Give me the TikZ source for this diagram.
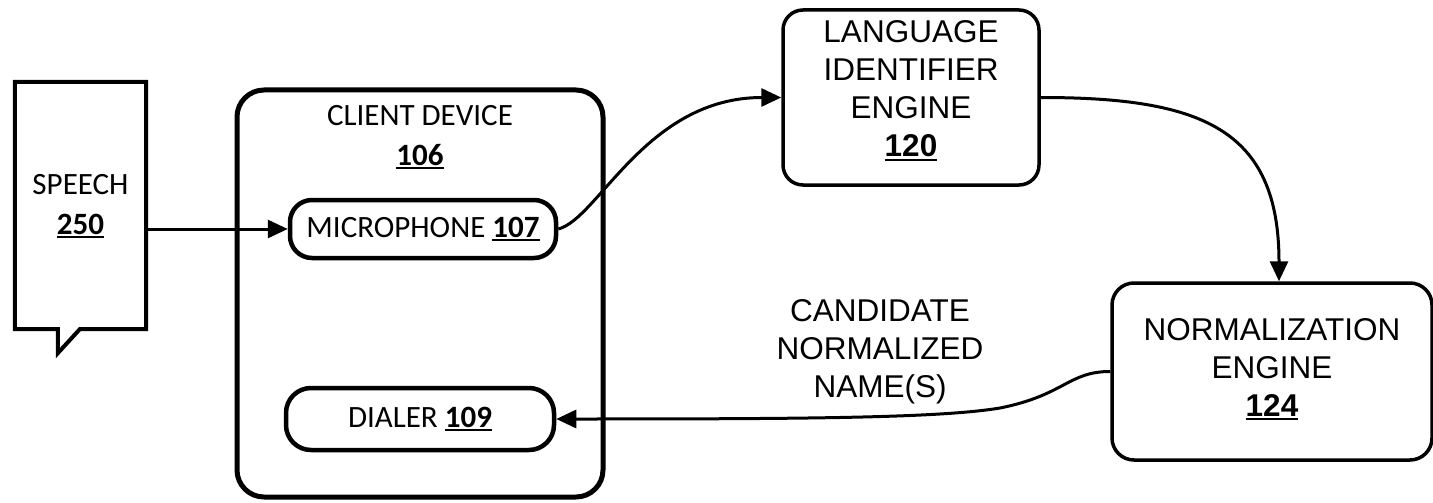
\documentclass[tikz,border=0pt]{standalone}
\usepackage{fontspec}
\newfontfamily\calf{Carlito}
\newfontfamily\arf{Liberation Sans}
\usetikzlibrary{arrows.meta}
\newcommand\un[1]{\setbox0\hbox{\bfseries #1}\rlap{\rule[-4pt]{\wd0}{2.2pt}}\box0}
\begin{document}
\begin{tikzpicture}[x=1pt,y=-1pt,
  box/.style={draw, inner sep=0pt, rectangle},
  calt/.style={font=\calf\fontsize{31}{40}\selectfont, align=center, inner sep=0pt},
  art/.style={font=\arf\fontsize{31.5}{38}\selectfont, align=center, inner sep=0pt},
  conn/.style={line width=3pt, -{Triangle[length=20pt,width=18pt]}}]
\useasboundingbox (0,0) rectangle (1433,503);
% speech callout
\node[inner sep=0pt, minimum width=131pt, minimum height=247pt] (speech) at (80.5,205.5) {};
\draw[line width=4pt, line join=miter]
  (speech.north west) -- (speech.north east) -- (speech.south east)
  -- ([xshift=65pt]speech.south west) -- ++(-22,24) -- ++(0,-24)
  -- (speech.south west) -- cycle;
\node[calt] (speechtxt) at (80.5,206) {SPEECH\\\un{250}};
% client device
\node[box, line width=5pt, rounded corners=27pt, minimum width=366pt, minimum height=407pt] (client) at (420,293.5) {};
\node[calt] (clienttxt) at (420,137) {CLIENT DEVICE\\\un{106}};
\node[box, calt, line width=4.5pt, rounded corners=22pt, minimum width=266pt, minimum height=58pt] (mic) at (423,229) {MICROPHONE \un{107}};
\node[box, calt, line width=4.5pt, rounded corners=25pt, minimum width=268pt, minimum height=62pt] (dialer) at (420,419) {DIALER \un{109}};
% engines
\node[box, line width=3.5pt, rounded corners=20pt, minimum width=256pt, minimum height=175pt] (lang) at (911,97.5) {};
\node[art] (langtxt) at (911,91) {LANGUAGE\\IDENTIFIER\\ENGINE\\\un{120}};
\node[box, line width=3.5pt, rounded corners=22pt, minimum width=320pt, minimum height=177pt] (norm) at (1272,371.5) {};
\node[art] (normtxt) at (1272,369) {NORMALIZATION\\ENGINE\\\un{124}};
\node[art] (cand) at (880,352) {CANDIDATE\\NORMALIZED\\NAME(S)};
\coordinate (bend) at (1000,408);
% connectors
\draw[conn] (speech.east |- mic.west) -- (mic.west);
\draw[conn] (mic.east) .. controls +(40,-10) and +(-135,0) .. (lang.west);
\draw[conn] (lang.east) .. controls +(160,0) and +(0,-153) .. ([xshift=7pt]norm.north);
\draw[conn] (norm.west) .. controls +(-42,0) and +(65,-13) .. (bend)
  .. controls +(-60,10) and +(250,0) .. (dialer.east);
\end{tikzpicture}
\end{document}
